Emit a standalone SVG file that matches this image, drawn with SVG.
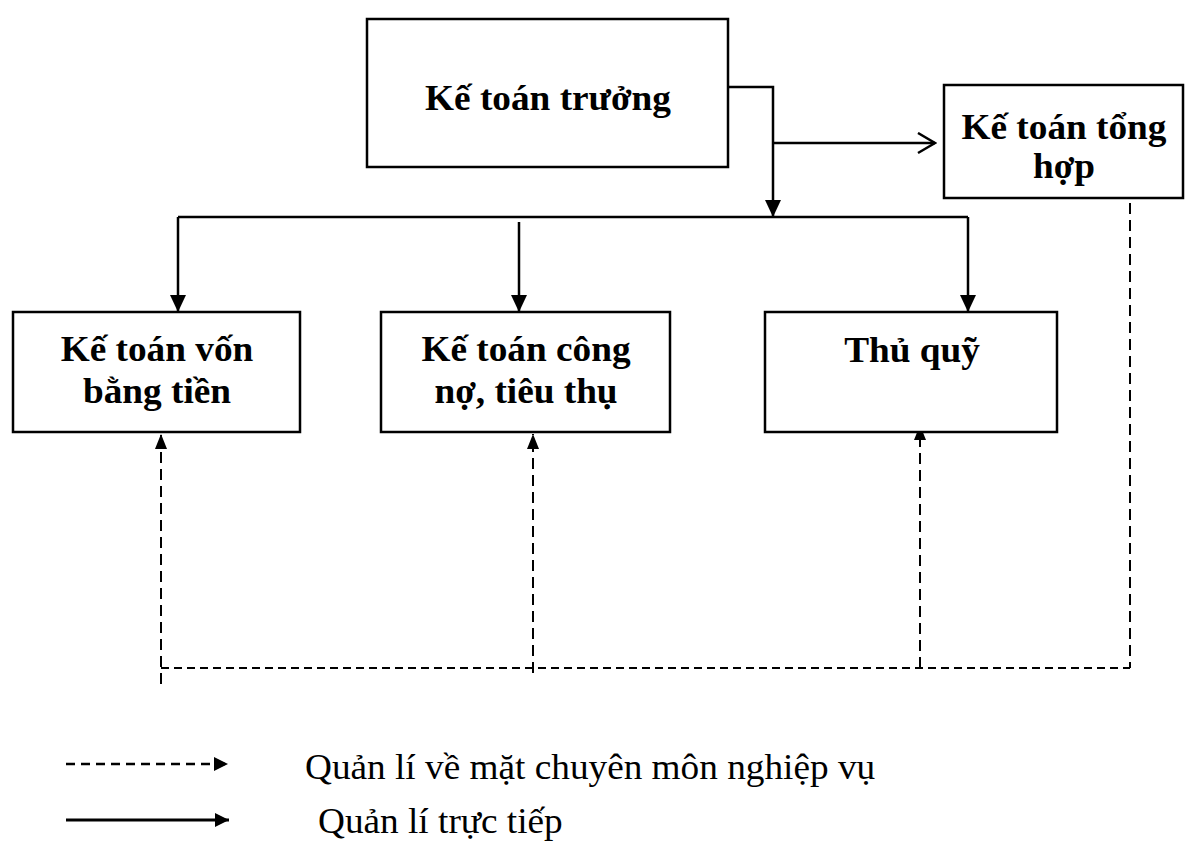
<svg xmlns="http://www.w3.org/2000/svg" width="1185" height="849" viewBox="0 0 1185 849">
  <style>
    .box { fill: #ffffff; stroke: #000000; stroke-width: 2.5; }
    .title { font-family: "Liberation Serif", "Times New Roman", serif; font-weight: bold; font-size: 35px; fill: #000000; text-anchor: middle; }
    .legend { font-family: "Liberation Serif", "Times New Roman", serif; font-size: 35px; fill: #000000; }
    .solid { fill: none; stroke: #000000; stroke-width: 2.5; }
    .dash { fill: none; stroke: #000000; stroke-width: 2; stroke-dasharray: 11 6; }
    .dash-h { fill: none; stroke: #000000; stroke-width: 2; stroke-dasharray: 8 5; }
    .legend-dash { fill: none; stroke: #000000; stroke-width: 2.5; stroke-dasharray: 9 6; }
    .legend-solid { fill: none; stroke: #000000; stroke-width: 3; }
  </style>
  <defs>
    <marker id="tri" markerUnits="userSpaceOnUse" markerWidth="18" markerHeight="16" refX="17" refY="8" orient="auto">
      <path d="M0,0 L17,8 L0,16 Z" fill="#000000"/>
    </marker>
    <marker id="tri-small" markerUnits="userSpaceOnUse" markerWidth="16" markerHeight="14" refX="15" refY="6" orient="auto">
      <path d="M0,0 L15,6 L0,12 Z" fill="#000000"/>
    </marker>
    <marker id="tri-legend" markerUnits="userSpaceOnUse" markerWidth="16" markerHeight="16" refX="14" refY="7" orient="auto">
      <path d="M0,0 L14,7 L0,14 Z" fill="#000000"/>
    </marker>
    <marker id="open" markerUnits="userSpaceOnUse" markerWidth="20" markerHeight="24" refX="18" refY="11" orient="auto">
      <path d="M1,1 L18,11 L1,21" fill="none" stroke="#000000" stroke-width="2.5"/>
    </marker>
  </defs>

  <rect width="1185" height="849" fill="#ffffff"/>

  <!-- connectors -->
  <g id="connectors">
    <!-- direct management (solid) -->
    <path class="solid" d="M728,87 H773 V217" marker-end="url(#tri)"/>
    <path class="solid" d="M773,143 H935" marker-end="url(#open)"/>
    <path class="solid" d="M178,217 H968"/>
    <path class="solid" d="M178,217 V312" marker-end="url(#tri)"/>
    <path class="solid" d="M519,222 V312" marker-end="url(#tri)"/>
    <path class="solid" d="M968,217 V312" marker-end="url(#tri)"/>

    <!-- professional supervision (dashed) -->
    <path class="dash" d="M1130,186 V668"/>
    <path class="dash-h" d="M161,668 H1130"/>
    <path class="dash" d="M161,684 V434" marker-end="url(#tri-small)"/>
    <path class="dash" d="M533,673 V434" marker-end="url(#tri-small)"/>
    <path class="dash" d="M920,668 V425" marker-end="url(#tri-small)"/>
  </g>

  <!-- nodes -->
  <g id="ke-toan-truong">
    <rect class="box" x="367" y="19" width="361" height="148"/>
    <text class="title" transform="translate(548,110) scale(1.065,1)">Kế toán trưởng</text>
  </g>

  <g id="ke-toan-tong-hop">
    <rect class="box" x="944" y="85" width="239" height="113"/>
    <text class="title" transform="translate(1064,139) scale(1.065,1)">Kế toán tổng</text>
    <text class="title" transform="translate(1064,178) scale(1.065,1)">hợp</text>
  </g>

  <g id="ke-toan-von-bang-tien">
    <rect class="box" x="13" y="312" width="287" height="120"/>
    <text class="title" transform="translate(157,361) scale(1.065,1)">Kế toán vốn</text>
    <text class="title" transform="translate(157,403) scale(1.065,1)">bằng tiền</text>
  </g>

  <g id="ke-toan-cong-no">
    <rect class="box" x="381" y="312" width="289" height="120"/>
    <text class="title" transform="translate(526,361) scale(1.065,1)">Kế toán công</text>
    <text class="title" transform="translate(526,403) scale(1.065,1)">nợ, tiêu thụ</text>
  </g>

  <g id="thu-quy">
    <rect class="box" x="765" y="312" width="292" height="120"/>
    <text class="title" transform="translate(912,362) scale(1.065,1)">Thủ quỹ</text>
  </g>

  <!-- legend -->
  <g id="legend">
    <path class="legend-dash" d="M66,764 H228" marker-end="url(#tri-legend)"/>
    <text class="legend" transform="translate(305,779) scale(1.065,1)">Quản lí về mặt chuyên môn nghiệp vụ</text>
    <path class="legend-solid" d="M66,820 H229" marker-end="url(#tri-legend)"/>
    <text class="legend" transform="translate(318,833) scale(1.065,1)">Quản lí trực tiếp</text>
  </g>
</svg>
